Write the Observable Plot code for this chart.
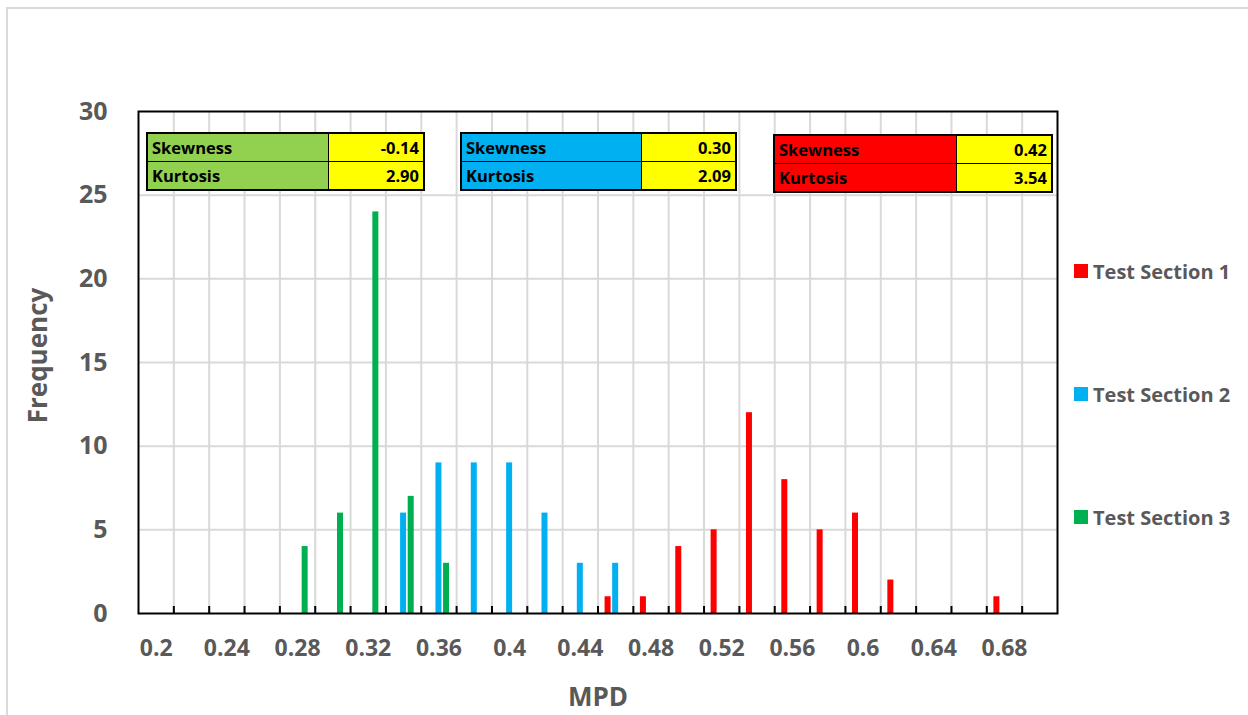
<!DOCTYPE html>
<html>
<head>
<meta charset="utf-8">
<script src="https://cdn.jsdelivr.net/npm/d3@7"></script>
<script src="https://cdn.jsdelivr.net/npm/@observablehq/plot@0.6"></script>
<style>
  body { margin: 0; background: #fff; font-family: "Open Sans", sans-serif; }
  #wrap { position: relative; width: 1248px; height: 715px; overflow: hidden; background: #fff; }
  #chart { position: absolute; left: 0; top: 0; }
  #border { position: absolute; left: 6px; top: 7px; width: 1400px; height: 900px;
            border-top: 2px solid #d9d9d9; border-left: 2px solid #d9d9d9; pointer-events: none; }
  table.stat { position: absolute; border-collapse: collapse; border: 2px solid #000; }
  table.stat td { border: 1.5px solid #000; padding: 0 4px; font: bold 16.5px "Open Sans", sans-serif;
                  color: #000; height: 27px; line-height: 27px; white-space: nowrap; }
  table.stat td.v { background: #ffff00; text-align: right; }
  .legend { position: absolute; left: 1074px; display: flex; align-items: center;
            font: bold 20px "Open Sans", sans-serif; color: #595959; white-space: nowrap; }
  .legend .sw { width: 14px; height: 14px; margin-right: 5px; }
</style>
</head>
<body>
<div id="wrap">
  <div id="chart"></div>
  <div id="border"></div>
</div>
<script>
// ---- data ----
const categories = ["0.2","0.22","0.24","0.26","0.28","0.3","0.32","0.34","0.36","0.38","0.4","0.42","0.44",
                    "0.46","0.48","0.5","0.52","0.54","0.56","0.58","0.6","0.62","0.64","0.66","0.68","0.7"];
const tickLabels = ["0.2","0.24","0.28","0.32","0.36","0.4","0.44","0.48","0.52","0.56","0.6","0.64","0.68"];
const yTicks = [0, 5, 10, 15, 20, 25, 30];
const seriesNames = ["Test Section 1", "Test Section 2", "Test Section 3"];
const seriesColors = ["#ff0000", "#00b0f0", "#00b050"];
const section1 = [0,0,0,0,0,0,0,0,0,0,0,0,0,1,1,4,5,12,8,5,6,2,0,0,1,0];
const section2 = [0,0,0,0,0,0,0,6,9,9,9,6,3,3,0,0,0,0,0,0,0,0,0,0,0,0];
const section3 = [0,0,0,0,4,6,24,7,3,0,0,0,0,0,0,0,0,0,0,0,0,0,0,0,0,0];
// stats tables (left to right: section 3, section 2, section 1)
const statSections = ["Test Section 3", "Test Section 2", "Test Section 1"];
const statColors = ["#92d050", "#00b0f0", "#ff0000"];
const skewness = ["-0.14", "0.30", "0.42"];
const kurtosis = ["2.90", "2.09", "3.54"];

// ---- layout ----
const W = 1248, H = 715, mL = 138, mR = 191, mT = 111, mB = 102;
const bw = (W - mL - mR) / categories.length;
const barW = 6, offset = 7.6;
const seriesValues = [section1, section2, section3];
const dxs = [-offset, 0, offset];

const barMarks = seriesValues.map((vals, s) => {
  const rows = categories.map((c, i) => ({cat: c, value: vals[i]})).filter(d => d.value > 0);
  return Plot.barY(rows, {x: "cat", y: "value", fill: seriesColors[s], dx: dxs[s],
                          insetLeft: (bw - barW) / 2, insetRight: (bw - barW) / 2});
});

const boundaries = categories.slice(0, -1);
const chart = Plot.plot({
  width: W, height: H,
  marginLeft: mL, marginRight: mR, marginTop: mT, marginBottom: mB,
  style: {fontFamily: '"Open Sans", sans-serif', background: "transparent"},
  x: {type: "band", domain: categories, padding: 0, round: false},
  y: {domain: [0, 30]},
  marks: [
    Plot.gridY(yTicks.filter(v => v > 0 && v < 30), {stroke: "#d9d9d9", strokeWidth: 2, strokeOpacity: 1}),
    Plot.ruleX(boundaries, {x: d => d, dx: bw / 2, stroke: "#d9d9d9", strokeWidth: 2}),
    ...barMarks,
    Plot.ruleX(boundaries, {x: d => d, dx: bw / 2, stroke: "#000", strokeWidth: 2, insetTop: H - mT - mB - 7}),
    Plot.frame({stroke: "#000", strokeWidth: 2}),
    Plot.axisY({ticks: yTicks, tickSize: 0, tickPadding: 31, fontSize: 25, fontWeight: "bold", color: "#595959", label: null}),
    Plot.axisX({ticks: tickLabels, tickSize: 0, tickPadding: 26, fontSize: 23, fontWeight: "bold", color: "#595959", label: null}),
    Plot.text(["Frequency"], {frameAnchor: "left", textAnchor: "middle", lineAnchor: "middle", rotate: -90, dx: -100, dy: -7,
                              fontSize: 26, fontWeight: "bold", fill: "#595959"}),
    Plot.text(["MPD"], {frameAnchor: "bottom", dy: 92, fontSize: 26, fontWeight: "bold", fill: "#595959"})
  ]
});
document.getElementById("chart").appendChild(chart);

// ---- stats tables ----
const wrap = document.getElementById("wrap");
const tablePos = [{left: 146, top: 132, w: 279, k: 172}, {left: 460, top: 132, w: 277, k: 171}, {left: 773, top: 134, w: 280, k: 173}];
statSections.forEach((name, i) => {
  const t = document.createElement("table");
  t.className = "stat";
  t.style.left = tablePos[i].left + "px";
  t.style.top = tablePos[i].top + "px";
  t.style.width = tablePos[i].w + "px";
  t.innerHTML =
    `<tr><td style="background:${statColors[i]};width:${tablePos[i].k}px">Skewness</td><td class="v">${skewness[i]}</td></tr>` +
    `<tr><td style="background:${statColors[i]}">Kurtosis</td><td class="v">${kurtosis[i]}</td></tr>`;
  wrap.appendChild(t);
});

// ---- legend ----
const legendY = [271, 394, 517];
seriesNames.forEach((name, i) => {
  const d = document.createElement("div");
  d.className = "legend";
  d.style.top = (legendY[i] - 15) + "px";
  d.style.height = "30px";
  d.innerHTML = `<div class="sw" style="background:${seriesColors[i]}"></div><span>${name}</span>`;
  wrap.appendChild(d);
});
</script>
</body>
</html>
